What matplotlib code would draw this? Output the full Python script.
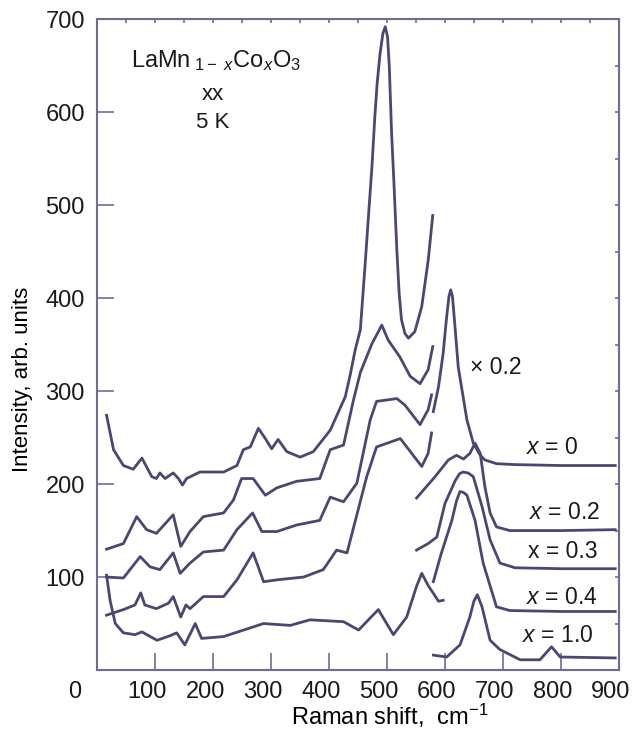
#!/usr/bin/env python
import numpy as np
import matplotlib
matplotlib.use('Agg')
import matplotlib.pyplot as plt
from matplotlib.transforms import ScaledTranslation

# Raman spectra of LaMn(1-x)Co(x)O3
# each curve is split in two pieces around ~580 cm-1
x0_lo_shift = [16, 28, 45, 62, 77, 94, 102, 108, 117, 131, 140, 147, 154, 177, 218, 241, 252, 264, 278, 290,
               301, 312, 327, 350, 373, 402, 428, 436, 445, 454, 462, 468, 474, 479, 483, 488, 493, 497, 501,
               504, 508, 512, 517, 521, 525, 531, 537, 548, 560, 571, 579]
x0_lo_int = [274, 237, 220, 216, 228, 208, 206, 212, 206, 212, 206, 199, 206, 213, 213, 220, 237, 240, 260, 249,
             238, 248, 235, 229, 235, 258, 294, 316, 344, 366, 434, 488, 541, 595, 631, 663, 685, 692, 681,
             649, 577, 524, 452, 405, 377, 362, 357, 364, 391, 440, 489]
x0_hi_shift = [580, 589, 597, 603, 607, 610, 613, 616, 623, 638, 649, 661, 669, 689, 720, 800, 894]
x0_hi_int = [278, 305, 341, 380, 402, 409, 402, 380, 326, 269, 244, 231, 226, 222, 221, 220, 220]

x02_lo_shift = [16, 45, 68, 85, 102, 131, 144, 160, 183, 218, 235, 249, 269, 290, 310, 344, 384, 402, 425, 442,
                454, 474, 491, 502, 522, 540, 557, 571, 579]
x02_lo_int = [130, 136, 165, 151, 147, 167, 133, 149, 165, 169, 183, 206, 206, 188, 196, 203, 206, 237, 242, 290,
              320, 351, 371, 355, 337, 316, 308, 323, 348]
x02_hi_shift = [551, 583, 606, 620, 632, 643, 652, 661, 669, 678, 689, 712, 800, 894]
x02_hi_int = [185, 208, 226, 231, 227, 233, 244, 233, 197, 169, 154, 150, 150, 151]

x03_lo_shift = [16, 45, 74, 91, 108, 131, 143, 160, 183, 218, 241, 268, 284, 310, 344, 384, 402, 425, 448, 471,
                482, 517, 531, 557, 571, 577]
x03_lo_int = [100, 99, 122, 111, 108, 126, 104, 115, 127, 129, 151, 169, 149, 149, 156, 161, 186, 181, 201, 269,
              289, 292, 285, 264, 280, 296]
x03_hi_shift = [551, 571, 586, 600, 618, 625, 631, 640, 649, 664, 678, 695, 721, 800, 894]
x03_hi_int = [129, 136, 143, 179, 204, 211, 213, 212, 208, 176, 140, 115, 110, 109, 109]

x04_lo_shift = [16, 45, 65, 75, 82, 102, 123, 131, 144, 153, 160, 183, 218, 241, 269, 287, 310, 356, 390, 413,
                431, 465, 482, 523, 560, 571, 577]
x04_lo_int = [59, 65, 70, 83, 70, 66, 72, 79, 57, 70, 66, 79, 79, 97, 126, 95, 97, 100, 108, 129,
              126, 208, 240, 249, 219, 233, 255]
x04_hi_shift = [580, 593, 612, 620, 626, 632, 638, 652, 666, 689, 712, 800, 894]
x04_hi_int = [95, 124, 161, 182, 192, 191, 188, 161, 115, 68, 64, 63, 63]

x10_lo_shift = [16, 22, 31, 45, 65, 77, 103, 126, 137, 151, 169, 180, 218, 287, 333, 367, 425, 451, 485, 511,
                534, 551, 560, 571, 589, 597]
x10_lo_int = [102, 75, 50, 40, 38, 41, 32, 37, 40, 27, 50, 34, 36, 50, 48, 54, 52, 43, 65, 38,
              57, 90, 104, 91, 74, 75]
x10_hi_shift = [580, 603, 626, 643, 650, 656, 664, 678, 695, 730, 764, 784, 799, 894]
x10_hi_int = [16, 14, 27, 57, 74, 81, 68, 32, 22, 11, 11, 25, 14, 13]

curve_labels = [r'$x$ = 0', r'$x$ = 0.2', 'x = 0.3', r'$x$ = 0.4', r'$x$ = 1.0']
label_pos = [(830, 239), (868, 169), (864, 127), (864, 78), (856, 37)]

x_ticks = list(range(0, 1000, 100))
y_ticks = list(range(100, 800, 100))

LINE_COLOR = '#4a4872'
AXIS_COLOR = '#6e6d94'
TEXT_COLOR = '#1a1a1a'

plt.rcParams['font.family'] = ['Liberation Sans', 'DejaVu Sans']
plt.rcParams['mathtext.fontset'] = 'custom'
plt.rcParams['mathtext.rm'] = 'Liberation Sans'
plt.rcParams['mathtext.it'] = 'Liberation Sans:italic'
plt.rcParams['text.color'] = TEXT_COLOR


def plot_spectra(save_as='out.png'):
    fig = plt.figure(figsize=(6.34, 7.29), dpi=100)
    ax = fig.add_axes([0.1535, 0.0809, 0.8224, 0.8926])

    segments = [
        (x0_lo_shift, x0_lo_int), (x0_hi_shift, x0_hi_int),
        (x02_lo_shift, x02_lo_int), (x02_hi_shift, x02_hi_int),
        (x03_lo_shift, x03_lo_int), (x03_hi_shift, x03_hi_int),
        (x04_lo_shift, x04_lo_int), (x04_hi_shift, x04_hi_int),
        (x10_lo_shift, x10_lo_int), (x10_hi_shift, x10_hi_int),
    ]
    for xs, ys in segments:
        ax.plot(xs, ys, color=LINE_COLOR, linewidth=2.0, solid_joinstyle='round')

    for lab, (lx, ly) in zip(curve_labels, label_pos):
        ax.text(lx, ly, lab, ha='right', va='center', fontsize=16.5)

    ax.text(205, 656, r'LaMn$_{\ 1-\ x}$Co$_x$O$_3$', ha='center', va='center', fontsize=17)
    ax.text(200, 619, 'xx', ha='center', va='center', fontsize=16)
    ax.text(200, 589, '5 K', ha='center', va='center', fontsize=16)
    ax.text(688, 325, '\u00d7 0.2', ha='center', va='center', fontsize=16.5)

    ax.set_xlim(0, 900)
    ax.set_ylim(0, 700)
    ax.set_xticks(x_ticks, [str(t) for t in x_ticks])
    ax.set_yticks(y_ticks, [str(t) for t in y_ticks])
    ax.tick_params(axis='both', which='major', direction='in', length=12, width=1.2,
                   color=AXIS_COLOR, labelsize=17, labelcolor=TEXT_COLOR)
    ax.tick_params(axis='x', pad=8)
    ax.tick_params(axis='y', pad=9)
    for sp in ax.spines.values():
        sp.set_color(AXIS_COLOR)
        sp.set_linewidth(1.5)

    # small ticks every 50 on top and right
    top = ax.secondary_xaxis('top')
    top.set_xticks(np.arange(0, 901, 50), [])
    top.tick_params(direction='in', length=3, width=1.2, color=AXIS_COLOR)
    top.spines['top'].set_color(AXIS_COLOR)
    right = ax.secondary_yaxis('right')
    right.set_yticks(np.arange(0, 701, 50), [])
    right.tick_params(direction='in', length=3, width=1.2, color=AXIS_COLOR)
    right.spines['right'].set_color(AXIS_COLOR)

    # tick labels sit a bit left of their ticks in the original
    for lab in ax.get_xticklabels():
        dx = -0.23 if lab.get_text() == '0' else -0.08
        lab.set_transform(lab.get_transform() + ScaledTranslation(dx, 0, fig.dpi_scale_trans))

    ax.set_xlabel(r'Raman shift,  cm$^{-1}$', fontsize=17)
    ax.xaxis.set_label_coords(0.561, -0.049)
    ax.set_ylabel('Intensity, arb. units', fontsize=16)
    ax.yaxis.set_label_coords(-0.123, 0.446)

    fig.savefig(save_as, dpi=100)
    print('Save to', save_as)


if __name__ == '__main__':
    plot_spectra()
